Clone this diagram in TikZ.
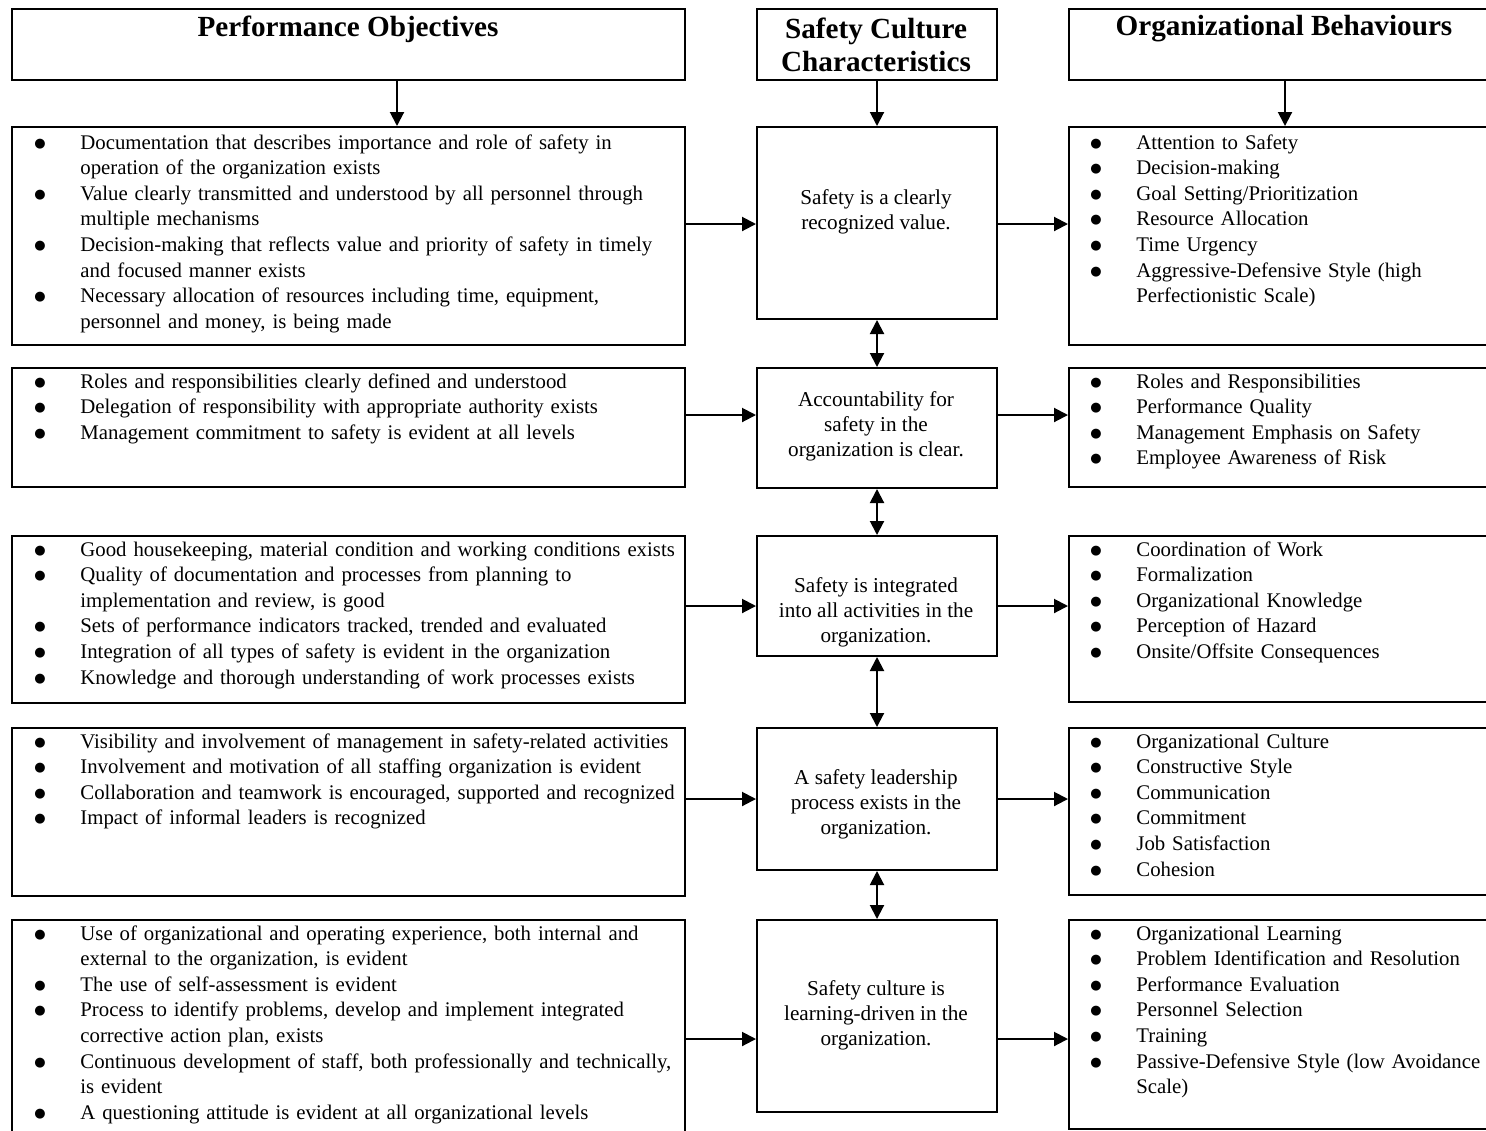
\documentclass[tikz,border=0pt]{standalone}
\usepackage{fontspec}
\setmainfont{Liberation Serif}
\newfontfamily\bulfont{DejaVu Sans}
\usetikzlibrary{arrows.meta}
\newcommand\bul{\raisebox{1pt}{\bulfont\fontsize{6.5}{6.5}\selectfont ●}}
\newcommand\itm[1]{\noindent\hangindent=23.5pt\hangafter=1\hbox to 23.5pt{\hspace{0.5pt}\bul\hfil}#1\par}
\tikzset{
  box/.style={draw, line width=1pt, inner sep=0pt, anchor=north west},
  txt/.style={inner sep=0pt, anchor=base west, text width=400pt, align=left,
    font=\fontsize{10.4}{12.8}\selectfont},
  ctxt/.style={inner sep=0pt, align=center, font=\fontsize{10.6}{12.5}\selectfont},
  head/.style={inner sep=0pt, align=center, font=\fontsize{14.6}{16.5}\selectfont\bfseries},
  arr/.style={line width=1pt, -{Triangle[length=7pt,width=7pt]}},
  darr/.style={line width=1pt, {Triangle[length=7pt,width=7pt]}-{Triangle[length=7pt,width=7pt]}},
}
\begin{document}
\begin{tikzpicture}[x=0.5pt, y=-0.5pt]
\clip (0,0) rectangle (1486,1130);
\fill[white] (0,0) rectangle (1486,1130);
% headers
\node[box, minimum width=336.5pt, minimum height=35.5pt] (hL) at (11,8) {};
\node[box, minimum width=120pt, minimum height=35.5pt] (hM) at (756,8) {};
\node[box, minimum width=215pt, minimum height=35.5pt] (hR) at (1068,8) {};
\node[head] (hLt) at (348,29) {Performance Objectives};
\node[head] (hMt) at (876,45) {Safety Culture\\Characteristics};
\node[head] (hRt) at (1284,29) {Organizational Behaviours};

% left boxes
\node[box, minimum width=336.5pt, minimum height=109pt] (L1) at (11,126) {};
\node[box, minimum width=336.5pt, minimum height=59.5pt] (L2) at (11,367) {};
\node[box, minimum width=336.5pt, minimum height=83.5pt] (L3) at (11,535) {};
\node[box, minimum width=336.5pt, minimum height=84pt] (L4) at (11,727) {};
\node[box, minimum width=336.5pt, minimum height=120pt] (L5) at (11,919) {};
% middle boxes
\node[box, minimum width=120pt, minimum height=96pt] (M1) at (756,126) {};
\node[box, minimum width=120pt, minimum height=60pt] (M2) at (756,367) {};
\node[box, minimum width=120pt, minimum height=60pt] (M3) at (756,535) {};
\node[box, minimum width=120pt, minimum height=71pt] (M4) at (756,727) {};
\node[box, minimum width=120pt, minimum height=96pt] (M5) at (756,919) {};
% right boxes
\node[box, minimum width=215pt, minimum height=109pt] (R1) at (1068,126) {};
\node[box, minimum width=215pt, minimum height=59.5pt] (R2) at (1068,367) {};
\node[box, minimum width=215pt, minimum height=83pt] (R3) at (1068,535) {};
\node[box, minimum width=215pt, minimum height=83.5pt] (R4) at (1068,727) {};
\node[box, minimum width=215pt, minimum height=104.5pt] (R5) at (1068,919) {};

% middle texts
\node[ctxt] (m1t) at (876,212) {Safety is a clearly\\recognized value.};
\node[ctxt] (m2t) at (876,426) {Accountability for\\safety in the\\organization is clear.};
\node[ctxt] (m3t) at (876,612) {Safety is integrated\\into all activities in the\\organization.};
\node[ctxt] (m4t) at (876,804) {A safety leadership\\process exists in the\\organization.};
\node[ctxt] (m5t) at (876,1015) {Safety culture is\\learning-driven in the\\organization.};

% left texts
\node[txt] (l1t) at (33,149) {%
\itm{Documentation that describes importance and role of safety in\newline operation of the organization exists}%
\itm{Value clearly transmitted and understood by all personnel through\newline multiple mechanisms}%
\itm{Decision-making that reflects value and priority of safety in timely\newline and focused manner exists}%
\itm{Necessary allocation of resources including time, equipment,\newline personnel and money, is being made}};
\node[txt] (l2t) at (33,388) {%
\itm{Roles and responsibilities clearly defined and understood}%
\itm{Delegation of responsibility with appropriate authority exists}%
\itm{Management commitment to safety is evident at all levels}};
\node[txt] (l3t) at (33,556) {%
\itm{Good housekeeping, material condition and working conditions exists}%
\itm{Quality of documentation and processes from planning to\newline implementation and review, is good}%
\itm{Sets of performance indicators tracked, trended and evaluated}%
\itm{Integration of all types of safety is evident in the organization}%
\itm{Knowledge and thorough understanding of work processes exists}};
\node[txt] (l4t) at (33,748) {%
\itm{Visibility and involvement of management in safety-related activities}%
\itm{Involvement and motivation of all staffing organization is evident}%
\itm{Collaboration and teamwork is encouraged, supported and recognized}%
\itm{Impact of informal leaders is recognized}};
\node[txt] (l5t) at (33,940) {%
\itm{Use of organizational and operating experience, both internal and\newline external to the organization, is evident}%
\itm{The use of self-assessment is evident}%
\itm{Process to identify problems, develop and implement integrated\newline corrective action plan, exists}%
\itm{Continuous development of staff, both professionally and technically,\newline is evident}%
\itm{A questioning attitude is evident at all organizational levels}};

% right texts
\node[txt] (r1t) at (1089,149) {%
\itm{Attention to Safety}%
\itm{Decision-making}%
\itm{Goal Setting/Prioritization}%
\itm{Resource Allocation}%
\itm{Time Urgency}%
\itm{Aggressive-Defensive Style (high\newline Perfectionistic Scale)}};
\node[txt] (r2t) at (1089,388) {%
\itm{Roles and Responsibilities}%
\itm{Performance Quality}%
\itm{Management Emphasis on Safety}%
\itm{Employee Awareness of Risk}};
\node[txt] (r3t) at (1089,556) {%
\itm{Coordination of Work}%
\itm{Formalization}%
\itm{Organizational Knowledge}%
\itm{Perception of Hazard}%
\itm{Onsite/Offsite Consequences}};
\node[txt] (r4t) at (1089,748) {%
\itm{Organizational Culture}%
\itm{Constructive Style}%
\itm{Communication}%
\itm{Commitment}%
\itm{Job Satisfaction}%
\itm{Cohesion}};
\node[txt] (r5t) at (1089,940) {%
\itm{Organizational Learning}%
\itm{Problem Identification and Resolution}%
\itm{Performance Evaluation}%
\itm{Personnel Selection}%
\itm{Training}%
\itm{Passive-Defensive Style (low Avoidance\newline Scale)}};

% header arrows
\draw[arr] (hL.south -| 397,0) -- (L1.north -| 397,0);
\draw[arr] (hM.south) -- (M1.north);
\draw[arr] (hR.south -| 1285,0) -- (R1.north -| 1285,0);

% middle double arrows
\draw[darr] (M1.south) -- (M2.north);
\draw[darr] (M2.south) -- (M3.north);
\draw[darr] (M3.south) -- (M4.north);
\draw[darr] (M4.south) -- (M5.north);

% horizontal arrows
\foreach \r/\y in {1/224, 2/415, 3/606, 4/799, 5/1039} {
  \draw[arr] (L\r.east |- 0,\y) -- (M\r.west |- 0,\y);
  \draw[arr] (M\r.east |- 0,\y) -- (R\r.west |- 0,\y);
}
\end{tikzpicture}
\end{document}
